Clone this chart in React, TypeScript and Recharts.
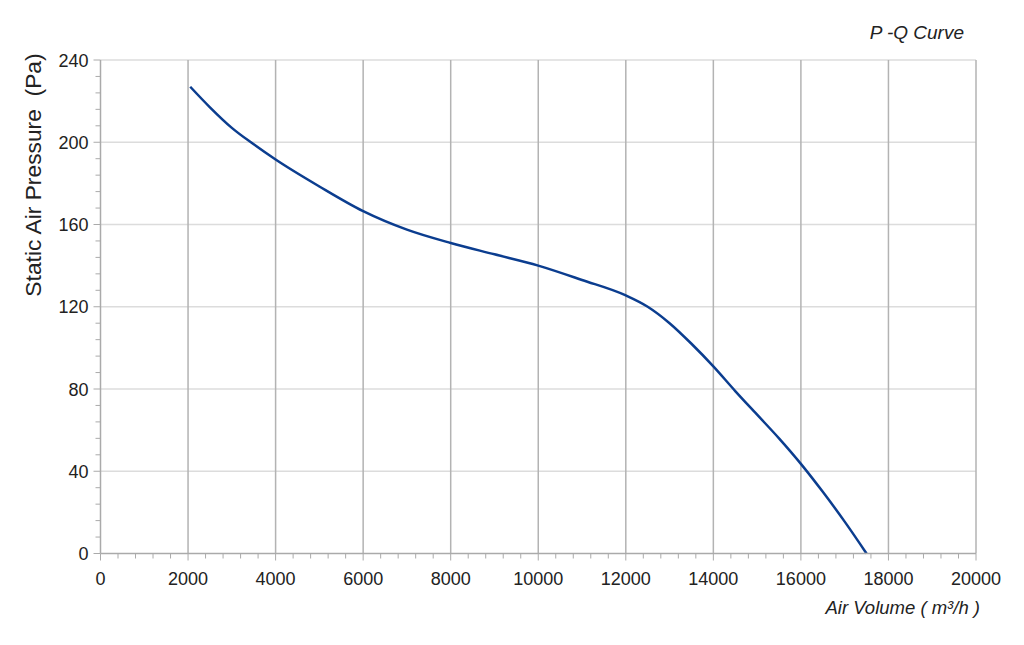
import React from "react";
import { LineChart, Line, XAxis, YAxis, ReferenceLine } from "recharts";

const LINE_BLUE = "#0b3d8f";
const FONT = "'Liberation Sans', Arial, sans-serif";

// air volume (m3/h) and static pressure (Pa)
const airVolume = [2050, 2500, 3000, 3500, 4000, 5000, 6000, 7000, 8000, 9000, 10000, 11000, 12000, 12500, 13000, 13500, 14000, 14500, 15000, 15500, 16000, 16500, 17000, 17500];
const pressure = [227, 217, 207, 199, 191.6, 178.5, 166.5, 157.5, 151, 145.5, 140, 133, 125.5, 120, 112, 102, 91, 79, 67.5, 56, 43.6, 30, 15.5, 0];

const xMajorTicks = [0, 2000, 4000, 6000, 8000, 10000, 12000, 14000, 16000, 18000, 20000];
const yMajorTicks = [0, 40, 80, 120, 160, 200, 240];
const xMinorStep = 400;
const yMinorStep = 8;

const chartData = airVolume.map((q, i) => ({ q, p: pressure[i] }));

const xTicks: number[] = [];
for (let v = 0; v <= 20000; v += xMinorStep) xTicks.push(v);
const yTicks: number[] = [];
for (let v = 0; v <= 240; v += yMinorStep) yTicks.push(v);

const XTick = (props: any) => {
  const { x, y, payload } = props;
  const major = xMajorTicks.includes(payload.value);
  return (
    <g>
      <line x1={x} x2={x} y1={y} y2={y + (major ? 7 : 5)} stroke="#aaa" strokeWidth={1} />
      {major && (
        <text x={x} y={y + 31} textAnchor="middle" fontSize={18} fill="#222" fontFamily={FONT}>
          {payload.value}
        </text>
      )}
    </g>
  );
};

const YTick = (props: any) => {
  const { x, y, payload } = props;
  const major = yMajorTicks.includes(payload.value);
  return (
    <g>
      <line x1={x} x2={x - (major ? 7 : 5)} y1={y} y2={y} stroke="#aaa" strokeWidth={1} />
      {major && (
        <text x={x - 12} y={y + 6.5} textAnchor="end" fontSize={18} fill="#222" fontFamily={FONT}>
          {payload.value}
        </text>
      )}
    </g>
  );
};

export default function App() {
  return (
    <div style={{ position: "absolute", left: 0, top: 0, width: 1024, height: 645, background: "#fff" }}>
      <LineChart
        width={1024}
        height={645}
        data={chartData}
        margin={{ top: 60, right: 48, bottom: 0, left: 0 }}
      >
        <XAxis
          dataKey="q"
          type="number"
          domain={[0, 20000]}
          ticks={xTicks}
          interval={0}
          tickSize={0}
          tickMargin={0}
          tickLine={false}
          tick={<XTick />}
          axisLine={{ stroke: "#aaa", strokeWidth: 1.5 }}
          height={91.5}
        />
        <YAxis
          type="number"
          domain={[0, 240]}
          ticks={yTicks}
          interval={0}
          tickSize={0}
          tickMargin={0}
          tickLine={false}
          tick={<YTick />}
          axisLine={{ stroke: "#aaa", strokeWidth: 1.5 }}
          width={100.5}
        />
        {yMajorTicks.filter((v) => v > 0).map((v) => (
          <ReferenceLine key={"h" + v} y={v} stroke="#dcdcdc" strokeWidth={1.5} />
        ))}
        {xMajorTicks.filter((v) => v > 0).map((v) => (
          <ReferenceLine key={"v" + v} x={v} stroke="#b3b3b3" strokeWidth={1.5} />
        ))}
        <Line
          type="monotone"
          dataKey="p"
          stroke={LINE_BLUE}
          strokeWidth={2.5}
          dot={false}
          isAnimationActive={false}
        />
      </LineChart>
      <svg
        width={1024}
        height={645}
        style={{ position: "absolute", left: 0, top: 0, pointerEvents: "none" }}
      >
        <text x={964} y={39} textAnchor="end" fontSize={19} fontStyle="italic" fill="#222" fontFamily={FONT}>
          P -Q Curve
        </text>
        <text
          x={41}
          y={175}
          transform="rotate(-90 41 175)"
          textAnchor="middle"
          fontSize={22.8}
          fill="#222"
          fontFamily={FONT}
          style={{ whiteSpace: "pre" }}
        >
          {"Static Air Pressure  (Pa)"}
        </text>
        <text x={980} y={614} textAnchor="end" fontSize={18.5} fontStyle="italic" fill="#222" fontFamily={FONT}>
          Air Volume ( m³/h )
        </text>
      </svg>
    </div>
  );
}
